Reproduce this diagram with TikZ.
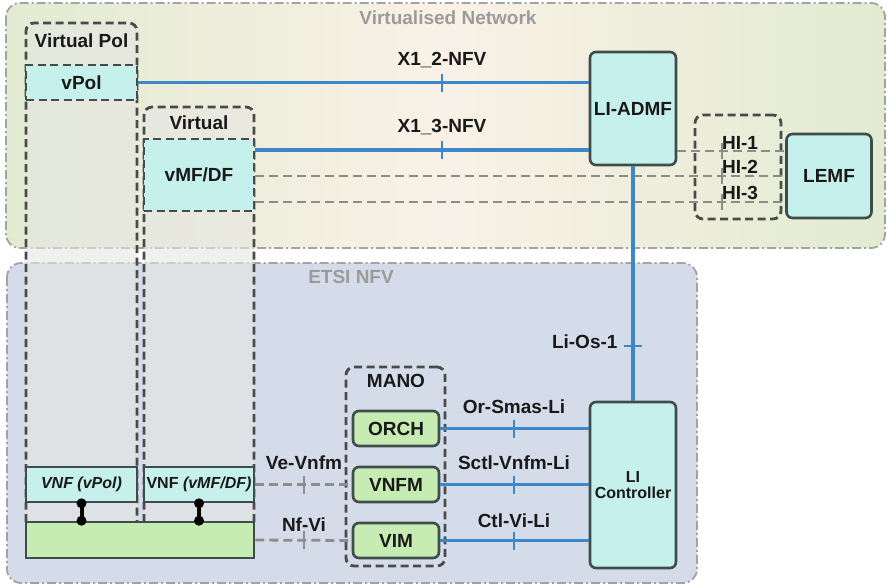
\documentclass[tikz,border=0pt]{standalone}
\usepackage{fontspec}
\setmainfont{Liberation Sans}
\usetikzlibrary{positioning}

\definecolor{cyanfill}{HTML}{C6F0EC}
\definecolor{greenfill}{HTML}{C6ECB4}
\definecolor{boxline}{HTML}{3E4C4C}
\definecolor{grpline}{HTML}{4A4A4A}
\definecolor{linkblue}{HTML}{3B87C9}
\definecolor{dashgray}{HTML}{8C8C8C}
\definecolor{regionline}{HTML}{A3A3A3}
\definecolor{vnetgreen}{HTML}{E2EBD1}
\definecolor{vnetbeige}{HTML}{F9F1E7}
\definecolor{etsiblue}{HTML}{D4DCEA}
\definecolor{colfill}{HTML}{E6E6E2}
\definecolor{titlegray}{HTML}{9B9B9B}

\begin{document}
\begin{tikzpicture}[x=1pt, y=-1pt,
        every node/.style={font=\fontsize{19}{21}\selectfont\bfseries, text=black!90},
        small/.style={font=\fontsize{16}{19}\selectfont\bfseries},
        title/.style={text=titlegray},
        region/.style={draw=regionline, line width=1.8pt, dash pattern=on 9pt off 3pt on 2pt off 3pt, rounded corners=14pt},
        grpbox/.style={draw=grpline, line width=2.8pt, dash pattern=on 8pt off 4.5pt, rounded corners=8pt},
        vbox/.style={draw=grpline, line width=2.8pt, dash pattern=on 8pt off 4.5pt, fill=cyanfill, inner sep=0pt},
        vnfbox/.style={draw=boxline, line width=2.6pt, fill=cyanfill, inner sep=0pt, small},
        fnbox/.style={draw=boxline, line width=2.6pt, rounded corners=6pt, fill=cyanfill, align=center, inner sep=0pt},
        manobox/.style={fnbox, fill=greenfill},
        bluelink/.style={draw=linkblue, line width=3.4pt},
        hilink/.style={draw=dashgray, line width=2.8pt, dash pattern=on 9pt off 5pt},
        bluetick/.style={draw=linkblue, line width=2.6pt},
        graytick/.style={draw=dashgray, line width=2.6pt}]
    \useasboundingbox (0,0) rectangle (888,587);

    % regions
    \draw[region, left color=vnetgreen, right color=vnetgreen, middle color=vnetbeige] (6,3) rectangle (885,248);
    \node[title] (vnettitle) at (448,18) {Virtualised Network};
    \draw[region, fill=etsiblue] (7,263) rectangle (697,583);
    \node[title] (etsititle) at (351,277) {ETSI NFV};

    % virtual columns
    \draw[grpbox, fill=colfill, fill opacity=.6] (26,522) |- (137,23) -- (137,522);
    \draw[grpbox, fill=colfill, fill opacity=.6] (144,522) |- (254,107) -- (254,522);
    \node (polhead) at (81.5,41) {Virtual Pol};
    \node (mfhead) at (199,123) {Virtual};
    \node[vbox, minimum width=111pt, minimum height=35pt] (vpol) at (81.5,82.5) {vPol};
    \node[vbox, minimum width=110pt, minimum height=72pt] (vmf) at (199,175) {vMF/DF};

    % NFV infrastructure
    \node[vnfbox, minimum width=111pt, minimum height=35pt] (vnfpol) at (81.5,484.5) {\itshape VNF (vPol)};
    \node[vnfbox, minimum width=110pt, minimum height=35pt] (vnfmf) at (199,484.5) {VNF \textit{(vMF/DF)}};
    \node[draw=boxline, line width=2.6pt, fill=greenfill, minimum width=228pt, minimum height=36pt] (nfvi) at (140,540) {};
    \foreach \v in {vnfpol,vnfmf} {
            \draw[line width=4pt] (\v.south) -- (\v.south |- nfvi.north);
            \fill (\v.south) circle(5pt);
            \fill (\v.south |- nfvi.north) circle(5pt);
        }

    % LI functions
    \node[fnbox, minimum width=86pt, minimum height=113pt] (admf) at (633,108.5) {LI-ADMF};
    \node[grpbox, minimum width=86pt, minimum height=104pt] (hi) at (738,167) {};
    \node[fnbox, minimum width=85pt, minimum height=84pt] (lemf) at (829,176) {LEMF};
    \node[fnbox, small, minimum width=86pt, minimum height=166pt] (lic) at (633,485) {LI\\[-3pt]Controller};

    % MANO
    \node[grpbox, minimum width=99pt, minimum height=199pt] (mano) at (395.5,466.5) {};
    \node (manohead) at (396,381) {MANO};
    \node[manobox, minimum width=86pt, minimum height=35pt] (orch) at (396,428.5) {ORCH};
    \node[manobox, minimum width=86pt, minimum height=35pt] (vnfm) at (396,484.5) {VNFM};
    \node[manobox, minimum width=86pt, minimum height=35pt] (vim) at (396,540.5) {VIM};

    % reference points
    \coordinate (row13) at (0,150);
    \coordinate (hi1) at (0,151);
    \coordinate (hi2) at (0,176);
    \coordinate (hi3) at (0,202);

    \draw[bluelink] (vpol.east) -- (vpol.east -| admf.west);
    \draw[bluelink] (vmf.east |- row13) -- (admf.west |- row13);
    \draw[hilink] (admf.east |- hi1) -- (lemf.west |- hi1);
    \draw[hilink] (vmf.east |- hi2) -- (lemf.west |- hi2);
    \draw[hilink] (vmf.east |- hi3) -- (lemf.west |- hi3);
    \draw[bluelink] (admf.south) -- (lic.north);
    \draw[bluelink] (orch.east) -- (orch.east -| lic.west);
    \draw[bluelink] (vnfm.east) -- (vnfm.east -| lic.west);
    \draw[bluelink] (vim.east) -- (vim.east -| lic.west);
    \draw[hilink] (vnfmf.east) -- (vnfm.west);
    \draw[hilink] (nfvi.east) -- (vim.west);

    % ticks
    \foreach \y in {82.5,150} \draw[bluetick] (442,\y-9) -- (442,\y+9);
    \foreach \y in {151,176,202} \draw[graytick] (722,\y-8) -- (722,\y+8);
    \foreach \y in {428.5,484.5,540.5} \draw[bluetick] (514,\y-9) -- (514,\y+9);
    \foreach \y in {484.5,540} \draw[graytick] (304,\y-9) -- (304,\y+9);
    \draw[bluetick] (624,346) -- (642,346);

    % interface labels
    \node (x12) at (442,60) {X1\_2-NFV};
    \node (x13) at (442,127) {X1\_3-NFV};
    \node (hione) at (740,143) {HI-1};
    \node (hitwo) at (740,167) {HI-2};
    \node (hithree) at (740,193) {HI-3};
    \node[anchor=east] (lios) at (621,342) {Li-Os-1};
    \node (orsmas) at (514,407) {Or-Smas-Li};
    \node (sctl) at (514,463) {Sctl-Vnfm-Li};
    \node (ctlvi) at (514,521) {Ctl-Vi-Li};
    \node (vevnfm) at (304,463) {Ve-Vnfm};
    \node (nfvilbl) at (304,525) {Nf-Vi};
\end{tikzpicture}
\end{document}
